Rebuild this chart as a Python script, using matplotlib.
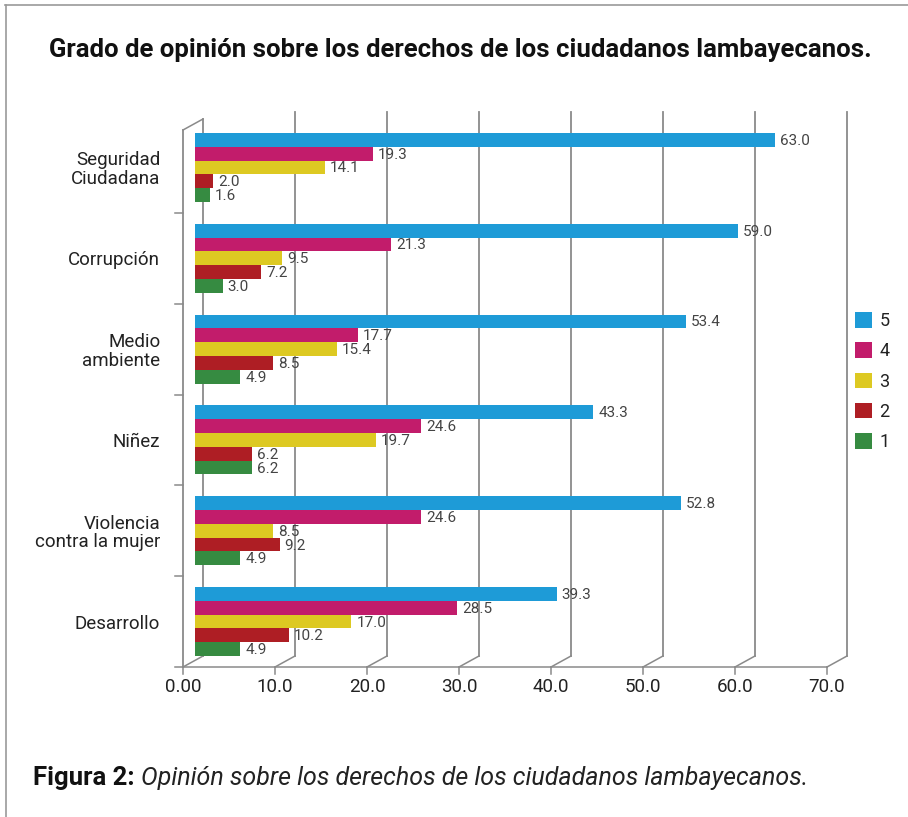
import numpy as np
import matplotlib
matplotlib.use("Agg")
import matplotlib.pyplot as plt
import matplotlib.transforms as mtransforms

plt.rcParams['font.family'] = ['Roboto', 'DejaVu Sans']

####### DATA #######
categorias = ['Seguridad\nCiudadana', 'Corrupción', 'Medio\nambiente', 'Niñez',
              'Violencia\ncontra la mujer', 'Desarrollo']
series = ['5', '4', '3', '2', '1']
valores_5 = [63.0, 59.0, 53.4, 43.3, 52.8, 39.3]
valores_4 = [19.3, 21.3, 17.7, 24.6, 24.6, 28.5]
valores_3 = [14.1, 9.5, 15.4, 19.7, 8.5, 17.0]
valores_2 = [2.0, 7.2, 8.5, 6.2, 9.2, 10.2]
valores_1 = [1.6, 3.0, 4.9, 6.2, 4.9, 4.9]
ticks_x = [0, 10, 20, 30, 40, 50, 60, 70]
ticks_x_labels = ['0.00', '10.0', '20.0', '30.0', '40.0', '50.0', '60.0', '70.0']

colores = ['#1E9BD7', '#C21C6B', '#DDC922', '#AE1E24', '#368B41']

####### FIGURE #######
W, H = 908, 817
fig = plt.figure(figsize=(W / 100, H / 100), dpi=100)

ax_left, ax_right = 195, 839      # pixel positions of x=0 and x=70 for the bars
ax_top, ax_bottom = 122, 667      # pixel positions of y=-0.5 and y=5.5
ax = fig.add_axes([ax_left / W, 1 - ax_bottom / H, (ax_right - ax_left) / W, (ax_bottom - ax_top) / H])
ax.set_xlim(0, 70)
ax.set_ylim(5.5, -0.5)
for s in ax.spines.values():
    s.set_visible(False)

sx = (ax_right - ax_left) / 70.0     # px per x unit
sy = (ax_bottom - ax_top) / 6.0      # px per y unit

# pseudo 3D offsets (front wall and back wall), in data units
fx = -12 / sx
bx, by = 8 / sx, -11 / sy
wall_top = -0.5 + 8 / sy
gcol = '#8a8a8a'

# back gridlines
for v in ticks_x:
    top = wall_top + by if v == 0 else -0.5 + by + 1 / sy
    ax.plot([v + bx, v + bx], [5.5 + by, top], color=gcol, lw=1.3, zorder=1, clip_on=False)
    # slant from front tick to back line
    ax.plot([v + fx, v + bx], [5.5, 5.5 + by], color=gcol, lw=1.1, zorder=1, clip_on=False)
    # front tick
    ax.plot([v + fx, v + fx], [5.5, 5.5 + 7 / sy], color=gcol, lw=1.1, zorder=1, clip_on=False)

# front wall
ax.plot([fx, fx], [5.5, wall_top], color=gcol, lw=1.3, zorder=1, clip_on=False)
ax.plot([fx, bx], [wall_top, wall_top + by], color=gcol, lw=1.1, zorder=1, clip_on=False)
ax.plot([fx - 8 / sx, 70 + fx], [5.5, 5.5], color=gcol, lw=1.1, zorder=1, clip_on=False)
for yy in [0.5, 1.5, 2.5, 3.5, 4.5]:
    ax.plot([fx - 8 / sx, fx], [yy, yy], color=gcol, lw=1.1, zorder=1, clip_on=False)

# bars
h = 13.8 / sy
y = np.arange(len(categorias))
todos = [valores_5, valores_4, valores_3, valores_2, valores_1]
handles = []
for j, vals in enumerate(todos):
    yy = y - 2 * h + j * h
    b = ax.barh(yy, vals, height=h, color=colores[j], zorder=3, label=series[j])
    handles.append(b)
    for yi, v in zip(yy, vals):
        ax.annotate('%.1f' % v, xy=(v, yi), xytext=(5, -1), textcoords='offset pixels',
                    ha='left', va='center', fontsize=11, color='#444444', zorder=4)

# axis labels
ax.set_yticks(y)
ax.set_yticklabels(categorias, fontsize=13.5, color='#222222', linespacing=1.05)
ax.tick_params(axis='y', length=0, pad=25)
ax.set_xticks(ticks_x)
ax.set_xticklabels(ticks_x_labels, fontsize=13.5, color='#222222')
ax.tick_params(axis='x', length=0, pad=8)
shift = mtransforms.ScaledTranslation(-12 / 100, 0, fig.dpi_scale_trans)
for lab in ax.get_xticklabels():
    lab.set_transform(lab.get_transform() + shift)

# legend
ax.legend(handles=handles, labels=series, loc='upper left',
          bbox_to_anchor=(855 / W, 1 - 312 / H), bbox_transform=fig.transFigure,
          frameon=False, borderpad=0, borderaxespad=0, handlelength=0.95, handleheight=0.95,
          handletextpad=0.4, labelspacing=0.68, fontsize=13, labelcolor='#222222')

# titles
fig.text(460 / W, 1 - 50 / H, 'Grado de opinión sobre los derechos de los ciudadanos lambayecanos.',
         ha='center', va='center', fontsize=18.5, fontweight='bold', color='#111111')
cap = fig.text(33 / W, 1 - 778 / H, 'Figura 2:', ha='left', va='center', fontsize=18.5,
               fontweight='bold', color='#111111')
ax.annotate('Opinión sobre los derechos de los ciudadanos lambayecanos.', xy=(1, 0.5),
            xycoords=cap, xytext=(6, 0), textcoords='offset pixels', ha='left', va='center',
            fontsize=18, fontstyle='italic', color='#222222', annotation_clip=False)

# outer frame
fig.add_artist(plt.Line2D([5 / W, 1], [1 - 5 / H, 1 - 5 / H], color='#999999', lw=1.2,
                          transform=fig.transFigure))
fig.add_artist(plt.Line2D([6 / W, 6 / W], [0, 1 - 5 / H], color='#999999', lw=1.2,
                          transform=fig.transFigure))

fig.savefig('out.png', dpi=100)
